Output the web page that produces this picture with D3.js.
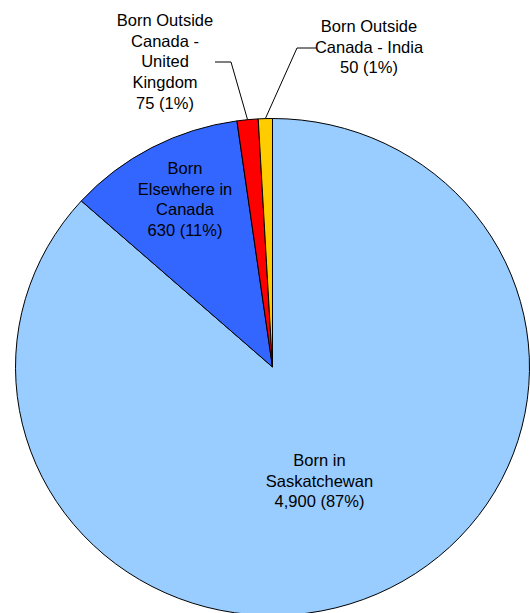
<!DOCTYPE html>
<html>
<head>
<meta charset="utf-8">
<script src="https://cdn.jsdelivr.net/npm/d3@7"></script>
<style>
  html, body { margin: 0; padding: 0; background: #fff; }
  svg { display: block; }
  text { font-family: "Liberation Sans", Arial, sans-serif; font-size: 16.5px; fill: #000; }
</style>
</head>
<body>
<svg id="chart" width="530" height="613"></svg>
<script>
// Place of birth, clockwise from 12 o'clock
const categories = [
  ["Born in", "Saskatchewan"],
  ["Born", "Elsewhere in", "Canada"],
  ["Born Outside", "Canada -", "United", "Kingdom"],
  ["Born Outside", "Canada - India"]
];
const values = [4900, 630, 75, 50];
const colors = ["#99CCFF", "#3366FF", "#FF0000", "#FFCC00"];

// Layout: label block centre x and first baseline y; leader elbow (null = label sits inside)
const labelLayout = [
  { x: 319.5, y: 466, anchor: "middle", elbow: null },
  { x: 185, y: 174, anchor: "middle", elbow: null },
  { x: 165, y: 26, anchor: "middle", elbow: [[215, 62], [231, 62]] },
  { x: 369, y: 32, anchor: "middle", elbow: [[316, 48], [297, 48]] }
];

const cx = 272.5, cy = 367, rx = 257, ry = 248.5;
const lineH = 20.7;

const svg = d3.select("#chart");
const total = d3.sum(values);
const fmt = d3.format(",");
const pct = v => Math.round(v / total * 100) + "%";

const pie = d3.pie().sort(null).value(d => d)(values);
const arc = d3.arc().innerRadius(0).outerRadius(ry);

// Pie is drawn as a circle and stretched horizontally into an ellipse
const g = svg.append("g")
  .attr("transform", `translate(${cx},${cy}) scale(${rx / ry},1)`);

g.selectAll("path")
  .data(pie)
  .join("path")
  .attr("d", arc)
  .attr("fill", (d, i) => colors[i])
  .attr("stroke", "#000")
  .attr("stroke-width", 1)
  .attr("vector-effect", "non-scaling-stroke")
  .attr("stroke-linejoin", "round");

// Leader lines from slice edge to the outside labels
const edgePoint = d => {
  const a = (d.startAngle + d.endAngle) / 2;
  return [cx + rx * Math.sin(a), cy - ry * Math.cos(a)];
};
pie.forEach((d, i) => {
  const L = labelLayout[i];
  if (!L.elbow) return;
  const pts = [L.elbow[0], L.elbow[1], edgePoint(d)];
  svg.append("path")
    .attr("d", d3.line()(pts))
    .attr("fill", "none")
    .attr("stroke", "#000")
    .attr("stroke-width", 1);
});

// Labels: category lines, then value and share
pie.forEach((d, i) => {
  const L = labelLayout[i];
  const lines = categories[i].concat([`${fmt(values[i])} (${pct(values[i])})`]);
  const t = svg.append("text")
    .attr("text-anchor", L.anchor)
    .attr("x", L.x)
    .attr("y", L.y);
  t.selectAll("tspan")
    .data(lines)
    .join("tspan")
    .attr("x", L.x)
    .attr("dy", (s, j) => j === 0 ? 0 : lineH)
    .text(s => s);
});
</script>
</body>
</html>
